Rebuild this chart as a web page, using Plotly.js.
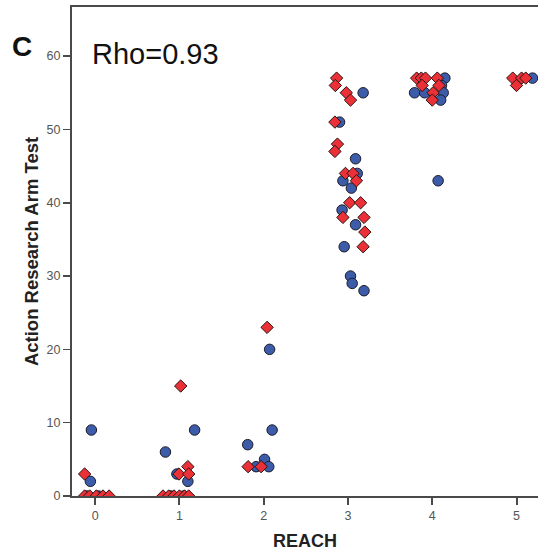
<!DOCTYPE html>
<html>
<head>
<meta charset="utf-8">
<script src="https://cdn.plot.ly/plotly-3.0.1.min.js"></script>
<style>
  html, body { margin: 0; padding: 0; background: #fff; overflow: hidden; }
  #chart { width: 538px; height: 555px; }
</style>
</head>
<body>
<div id="chart"></div>
<script>
// REACH score (jittered position as plotted) and ARAT value, group 1 (blue circles)
const blueReach = [-0.045, -0.057, -0.10, 0.04,
  0.834, 1.18, 1.10, 0.97, 0.90, 1.05,
  2.07, 2.10, 1.81, 2.01, 1.91, 2.06,
  3.18, 2.90, 3.09, 3.11, 2.94, 3.04, 2.93, 3.09, 2.955, 3.03, 3.05, 3.19,
  4.15, 4.11, 3.79, 3.91, 4.13, 4.10, 4.07,
  5.19];
const blueARAT = [9, 2, 0, 0,
  6, 9, 2, 3, 0, 0,
  20, 9, 7, 5, 4, 4,
  55, 51, 46, 44, 43, 42, 39, 37, 34, 30, 29, 28,
  57, 56, 55, 55, 55, 54, 43,
  57];

// group 2 (red diamonds)
const redReach = [-0.125, -0.125, -0.065, 0.014, 0.093, 0.165,
  1.015, 1.10, 0.995, 1.11, 0.805, 0.873, 0.936, 1.0, 1.06, 1.11,
  2.04, 1.815, 1.97,
  2.865, 2.85, 2.98, 3.03, 2.845, 2.875, 2.845, 2.97, 3.06, 3.10, 3.02, 3.15, 2.94, 3.19, 3.20, 3.18,
  3.815, 3.87, 3.92, 4.06, 3.88, 4.08, 4.01, 4.0,
  4.955, 5.06, 5.11, 5.0];
const redARAT = [3, 0, 0, 0, 0, 0,
  15, 4, 3, 3, 0, 0, 0, 0, 0, 0,
  23, 4, 4,
  57, 56, 55, 54, 51, 48, 47, 44, 44, 43, 40, 40, 38, 38, 36, 34,
  57, 57, 57, 57, 56, 56, 55, 54,
  57, 57, 57, 56];

const xTicks = [0, 1, 2, 3, 4, 5];
const yTicks = [0, 10, 20, 30, 40, 50, 60];

const FONT = 'Liberation Sans, Arial, sans-serif';

const traces = [
  {
    type: 'scatter', mode: 'markers',
    x: blueReach, y: blueARAT,
    marker: { symbol: 'circle', size: 10.5, color: '#3C5CA9', line: { color: '#1c1c2a', width: 1 } },
    hoverinfo: 'x+y'
  },
  {
    type: 'scatter', mode: 'markers',
    x: redReach, y: redARAT,
    marker: { symbol: 'diamond', size: 9.5, color: '#EC3038', line: { color: '#2a1414', width: 1 } },
    hoverinfo: 'x+y'
  }
];

const layout = {
  width: 538, height: 555,
  margin: { l: 72, r: 0, t: 7, b: 59 },
  paper_bgcolor: '#ffffff', plot_bgcolor: '#ffffff',
  showlegend: false,
  font: { family: FONT, color: '#444' },
  xaxis: {
    range: [-0.275, 5.255],
    tickvals: xTicks, ticktext: xTicks.map(String),
    ticks: 'outside', ticklen: 7, tickwidth: 2, tickcolor: '#4a4a4a',
    showline: true, linecolor: '#4a4a4a', linewidth: 2, mirror: true,
    showgrid: false, zeroline: false,
    tickfont: { size: 12.5, color: '#555' },
    title: { text: 'REACH', font: { size: 18, color: '#222', family: FONT, weight: 'bold' }, standoff: 12 }
  },
  yaxis: {
    range: [0, 66.7],
    tickvals: yTicks, ticktext: yTicks.map(String),
    ticks: 'outside', ticklen: 7, tickwidth: 1.5, tickcolor: '#4a4a4a',
    showline: true, linecolor: '#4a4a4a', linewidth: 2,
    showgrid: false, zeroline: false,
    tickfont: { size: 12.5, color: '#555' },
    title: { text: 'Action Research Arm Test', font: { size: 18.5, color: '#222', family: FONT, weight: 'bold' }, standoff: 3 }
  },
  annotations: [
    { xref: 'paper', yref: 'paper', x: -0.0815, y: 0.919, xanchor: 'right', yanchor: 'middle',
      text: '<b>C</b>', showarrow: false, font: { size: 28, color: '#111', family: FONT } },
    { xref: 'paper', yref: 'paper', x: 0.038, y: 0.904, xanchor: 'left', yanchor: 'middle',
      text: 'Rho=0.93', showarrow: false, font: { size: 29, color: '#111', family: FONT } }
  ]
};

Plotly.newPlot('chart', traces, layout, { displayModeBar: false, staticPlot: true });
</script>
</body>
</html>
